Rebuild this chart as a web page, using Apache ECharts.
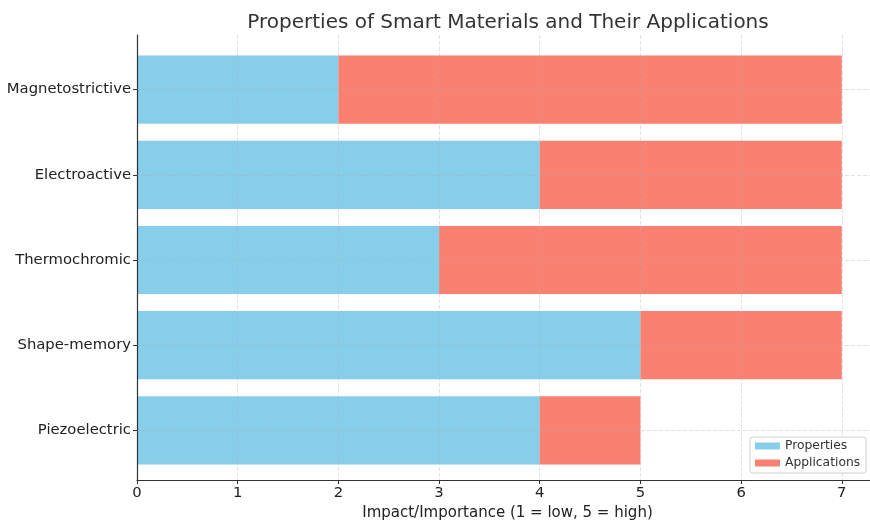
<!DOCTYPE html>
<html><head><meta charset="utf-8">
<script src="https://cdn.jsdelivr.net/npm/echarts@6/dist/echarts.min.js"></script>
<style>html,body{margin:0;padding:0;background:#fff}#c{width:870px;height:526px}</style>
</head><body><div id="c"></div>
<script>
const categories = ['Piezoelectric', 'Shape-memory', 'Thermochromic', 'Electroactive', 'Magnetostrictive'];
const properties = [4, 5, 3, 4, 2];
const applications = [1, 2, 4, 3, 5];
const seriesNames = ['Properties', 'Applications'];
const titleText = 'Properties of Smart Materials and Their Applications';
const xAxisName = 'Impact/Importance (1 = low, 5 = high)';

const font = 'DejaVu Sans';
const gridColor = 'rgba(170,170,170,0.45)';
const chart = echarts.init(document.getElementById('c'));
chart.setOption({
  animation: false,
  textStyle: { fontFamily: font },
  title: { text: titleText, left: 503, textAlign: 'center', top: 8,
    textStyle: { fontFamily: font, fontSize: 20, fontWeight: 'normal', color: '#333' } },
  grid: [
    { left: 137, right: 0, top: 47, bottom: 53 },
    { left: 137, right: 0, top: 35, bottom: 41 }
  ],
  legend: { orient: 'vertical', left: 750, top: 437, data: seriesNames,
    itemWidth: 25, itemHeight: 7, itemGap: 5, padding: [3, 6, 4, 5],
    borderColor: '#d0d0d0', borderWidth: 1, borderRadius: 3, backgroundColor: '#fff',
    textStyle: { fontFamily: font, fontSize: 12.3, color: '#333' }, icon: 'rect', z: 10 },
  xAxis: [
    { type: 'value', gridIndex: 0, min: 0, max: 7.28, interval: 1, show: false },
    { type: 'value', gridIndex: 1, min: 0, max: 7.28, interval: 1, z: 4,
      name: xAxisName, nameLocation: 'middle', nameGap: 26,
      nameTextStyle: { fontFamily: font, fontSize: 15, color: '#222', padding: [0, 0, 0, 8] },
      axisLine: { show: true, onZero: false, lineStyle: { color: '#333', width: 1.2 } },
      axisTick: { show: true, length: 4, lineStyle: { color: '#333' } },
      axisLabel: { showMaxLabel: false, fontFamily: font, fontSize: 14.8, color: '#222', margin: 6 },
      splitLine: { show: true, lineStyle: { type: [4, 2], color: gridColor, width: 0.8 } } }
  ],
  yAxis: [
    { type: 'category', gridIndex: 0, data: categories, z: 4,
      axisLine: { show: false },
      axisTick: { show: true, alignWithLabel: true, length: 4, lineStyle: { color: '#333' } },
      axisLabel: { fontFamily: font, fontSize: 14.8, color: '#222', margin: 6 },
      splitLine: { show: false } },
    { type: 'value', gridIndex: 1, min: 0, max: 1, show: true, z: 4,
      axisLine: { show: true, onZero: false, lineStyle: { color: '#333', width: 1.2 } },
      axisTick: { show: false }, axisLabel: { show: false }, splitLine: { show: false } }
  ],
  series: [
    { name: seriesNames[0], type: 'bar', stack: 'a', data: properties, barCategoryGap: '20%',
      xAxisIndex: 0, yAxisIndex: 0, itemStyle: { color: '#87CEEB' }, z: 2 },
    { name: seriesNames[1], type: 'bar', stack: 'a', data: applications, barCategoryGap: '20%',
      xAxisIndex: 0, yAxisIndex: 0, itemStyle: { color: '#FA8072' }, z: 2 },
    { type: 'line', data: [], xAxisIndex: 0, yAxisIndex: 0, z: 3, silent: true,
      markLine: { silent: true, symbol: 'none', label: { show: false },
        lineStyle: { type: [4, 2], color: gridColor, width: 0.8 },
        data: categories.map(c => ({ yAxis: c })) } }
  ]
});
</script></body></html>
